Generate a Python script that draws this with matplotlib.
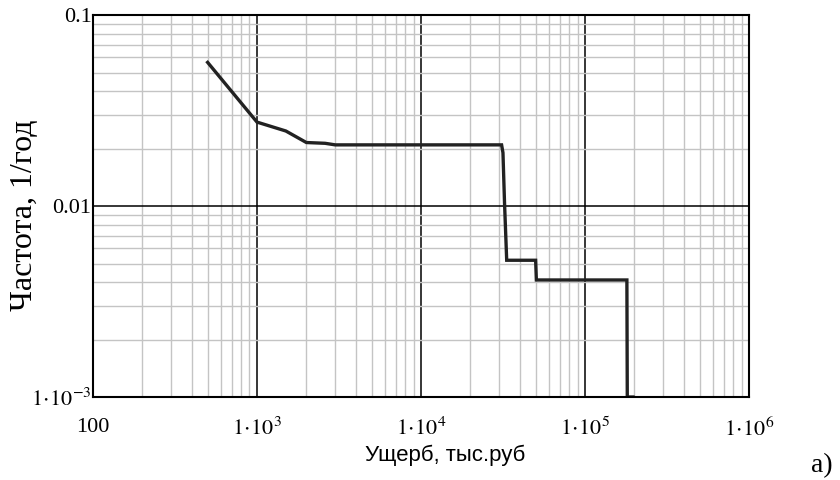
import numpy as np
import matplotlib
matplotlib.use("Agg")
import matplotlib.pyplot as plt
from matplotlib.ticker import FixedLocator, LogLocator, NullFormatter

plt.rcParams['mathtext.fontset'] = 'stix'

# ущерб (тыс. руб) и частота (1/год)
damage = [500, 1000, 1500, 2000, 2600, 3000, 31000, 31600, 32300, 33300,
          50000, 50500, 180000, 181000, 196000]
freq = [0.0565, 0.0275, 0.0247, 0.0215, 0.0213, 0.0209, 0.0209, 0.0190,
        0.0104, 0.0052, 0.0052, 0.0041, 0.0041, 0.001, 0.001]

xticks = [100, 1e3, 1e4, 1e5, 1e6]
xlabels = ['100', r'$1\!\cdot\!10^{3}$', r'$1\!\cdot\!10^{4}$',
           r'$1\!\cdot\!10^{5}$', r'$1\!\cdot\!10^{6}$']
yticks = [1e-3, 0.01, 0.1]
ylabels = [r'$1\!\cdot\!10^{-3}$', '0.01', '0.1']

fig = plt.figure(figsize=(8.4, 4.8), dpi=100)
ax = fig.add_axes([0.1107, 0.1729, 0.7810, 0.7958])
ax.set_xscale('log')
ax.set_yscale('log')
ax.set_xlim(100, 1e6)
ax.set_ylim(1e-3, 0.1)

ax.xaxis.set_major_locator(FixedLocator(xticks))
ax.yaxis.set_major_locator(FixedLocator(yticks))
ax.xaxis.set_minor_locator(LogLocator(base=10, subs=np.arange(2, 10)))
ax.yaxis.set_minor_locator(LogLocator(base=10, subs=np.arange(2, 10)))
ax.xaxis.set_minor_formatter(NullFormatter())
ax.yaxis.set_minor_formatter(NullFormatter())
ax.set_xticklabels(xlabels, fontsize=16, family='Liberation Serif')
ax.set_yticklabels(ylabels, fontsize=16, family='Liberation Serif')
ax.tick_params(which='both', length=0)
ax.tick_params(axis='x', pad=15)
ax.tick_params(axis='y', pad=1)

ax.grid(which='minor', color='#c4c4c4', lw=1.0)
ax.grid(which='major', color='black', lw=1.1)
ax.set_axisbelow(True)
for s in ax.spines.values():
    s.set_linewidth(1.5)

ax.plot(damage, freq, color='#222222', lw=2.4, solid_joinstyle='miter')

fig.text(25 / 840, 1 - 215 / 480, 'Частота, 1/год', fontsize=23,
         family='Liberation Serif', rotation=90, ha='center', va='center')
fig.text(445 / 840, 1 - 455 / 480, 'Ущерб, тыс.руб', fontsize=16,
         family='Liberation Sans', ha='center', va='center')
fig.text(811 / 840, 1 - 472 / 480, 'а)', fontsize=20,
         family='Liberation Serif', va='baseline')

fig.savefig('out.png', dpi=100)
